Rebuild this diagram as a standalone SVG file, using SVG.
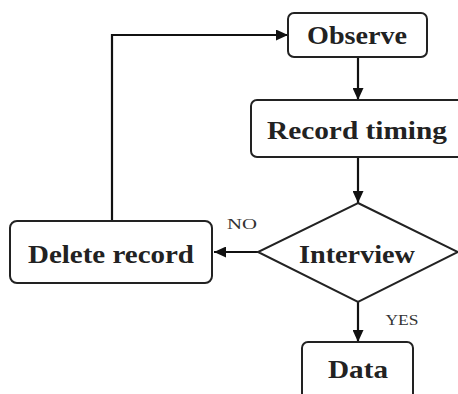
<svg xmlns="http://www.w3.org/2000/svg" width="458" height="394" viewBox="0 0 458 394">
<defs>
<marker id="arr" viewBox="0 0 12 11" refX="12" refY="5.5" markerWidth="12" markerHeight="11" markerUnits="userSpaceOnUse" orient="auto">
<path d="M0,0 L12,5.5 L0,11 Z" fill="#111"/>
</marker>
<style>
.box{fill:#fff;stroke:#222;stroke-width:2}
.lbl{font-family:"Liberation Serif",serif;font-weight:bold;font-size:26px;fill:#222;text-anchor:middle}
.small{font-family:"Liberation Serif",serif;font-size:15px;fill:#333;text-anchor:middle}
.edge{fill:none;stroke:#111;stroke-width:2.2;marker-end:url(#arr)}
</style>
</defs>
<rect width="458" height="394" fill="#fff"/>
<g id="connectors">
<path class="edge" d="M358,57 V100"/>
<path class="edge" d="M358,157 V203"/>
<path class="edge" d="M258,252 H214"/>
<path class="edge" d="M358,302 V342"/>
<path class="edge" d="M112,221 V35 H288"/>
<text class="small" x="242" y="229" textLength="30" lengthAdjust="spacingAndGlyphs">NO</text>
<text class="small" x="402" y="325" textLength="33" lengthAdjust="spacingAndGlyphs">YES</text>
</g>
<g id="observe">
<rect class="box" x="288" y="13" width="139" height="44" rx="6"/>
<text class="lbl" x="357" y="44" textLength="100" lengthAdjust="spacingAndGlyphs">Observe</text>
</g>
<g id="record-timing">
<rect class="box" x="251" y="100" width="212" height="57" rx="6"/>
<text class="lbl" x="357" y="139" textLength="180" lengthAdjust="spacingAndGlyphs">Record timing</text>
</g>
<g id="interview">
<polygon class="box" points="358,203 458,252 358,302 258,252"/>
<text class="lbl" x="357" y="263" textLength="116" lengthAdjust="spacingAndGlyphs">Interview</text>
</g>
<g id="delete-record">
<rect class="box" x="10" y="221" width="202" height="62" rx="7"/>
<text class="lbl" x="111" y="263" textLength="166" lengthAdjust="spacingAndGlyphs">Delete record</text>
</g>
<g id="data">
<rect class="box" x="302" y="342" width="111" height="60" rx="6"/>
<text class="lbl" x="358" y="378" textLength="60" lengthAdjust="spacingAndGlyphs">Data</text>
</g>
</svg>
